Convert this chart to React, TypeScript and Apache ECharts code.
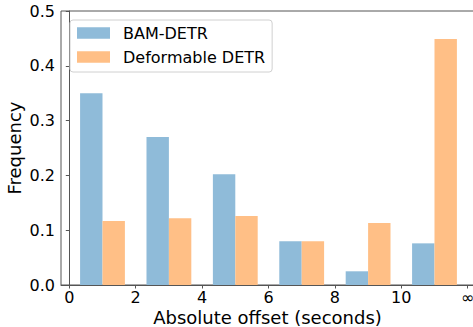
import React, { useEffect, useRef } from "react";
import * as echarts from "echarts";

const centers = [1, 3, 5, 7, 9, 11];
const bamDetr = [0.35, 0.27, 0.202, 0.08, 0.025, 0.076];
const deformableDetr = [0.117, 0.122, 0.126, 0.08, 0.113, 0.449];
const xTickValues = [0, 2, 4, 6, 8, 10, 12];
const xTickLabels = ["0", "2", "4", "6", "8", "10", "∞"];
const seriesNames = ["BAM-DETR", "Deformable DETR"];

const BAR_W = 0.675;
const FONT = "DejaVu Sans";

export default function App() {
  const ref = useRef<HTMLDivElement>(null);
  useEffect(() => {
    if (!ref.current) return;
    const chart = echarts.init(ref.current, null, { renderer: "svg" });
    const mk = (name: string, vals: number[], color: string, side: number) => ({
      type: "custom",
      name,
      itemStyle: { color },
      data: centers.map((c, i) => [c, vals[i]]),
      encode: { x: 0, y: 1 },
      renderItem: (params: any, api: any) => {
        const x = api.value(0);
        const v = api.value(1);
        const xa = side < 0 ? x - BAR_W : x;
        const xb = side < 0 ? x : x + BAR_W;
        const p0 = api.coord([xa, 0]);
        const p1 = api.coord([xb, v]);
        return {
          type: "rect",
          shape: { x: p0[0], y: p1[1], width: p1[0] - p0[0], height: p0[1] - p1[1] },
          style: { fill: color },
        };
      },
    });
    chart.setOption({
      animation: false,
      textStyle: { fontFamily: FONT },
      grid: {
        left: 61,
        top: 11,
        width: 413,
        height: 274,
        containLabel: false,
        outerBoundsMode: "none",
        show: true,
        borderColor: "#555",
        borderWidth: 1,
      },
      legend: {
        orient: "vertical",
        left: 70,
        top: 20,
        data: seriesNames.map((n) => ({ name: n, icon: "rect" })),
        itemWidth: 33,
        itemHeight: 11.5,
        itemGap: 8,
        padding: [5, 7, 7, 7],
        borderColor: "#d0d0d0",
        borderWidth: 1,
        borderRadius: 3,
        backgroundColor: "rgba(255,255,255,0.8)",
        textStyle: { fontFamily: FONT, fontSize: 16, color: "#000", lineHeight: 16, padding: [0, 0, 0, 8] },
      },
      xAxis: {
        type: "value",
        min: -0.25,
        max: 12.19,
        name: "Absolute offset (seconds)",
        nameLocation: "middle",
        nameGap: 25,
        nameMoveOverlap: false,
        nameTextStyle: { fontFamily: FONT, fontSize: 18, color: "#000", lineHeight: 14 },
        splitLine: { show: false },
        axisLine: { show: true, onZero: false, lineStyle: { color: "#555" } },
        axisTick: { show: true, length: 3.5, lineStyle: { color: "#555" }, customValues: xTickValues },
        axisLabel: {
          fontFamily: FONT,
          fontSize: 16,
          lineHeight: 12,
          color: "#000",
          margin: 6,
          customValues: xTickValues,
          formatter: (v: number) => {
            const i = xTickValues.indexOf(v);
            return i >= 0 ? xTickLabels[i] : "";
          },
        },
      },
      yAxis: {
        type: "value",
        min: 0,
        max: 0.5,
        interval: 0.1,
        name: "Frequency",
        nameLocation: "middle",
        nameGap: 38,
        nameMoveOverlap: false,
        nameTextStyle: { fontFamily: FONT, fontSize: 18, color: "#000" },
        splitLine: { show: false },
        axisLine: { show: true, lineStyle: { color: "#555" } },
        axisTick: { show: true, length: 3.5, lineStyle: { color: "#555" } },
        axisLabel: {
          fontFamily: FONT,
          fontSize: 16,
          color: "#000",
          margin: 6,
          formatter: (v: number) => v.toFixed(1),
        },
      },
      series: [
        mk(seriesNames[0], bamDetr, "#8fbbd9", -1),
        mk(seriesNames[1], deformableDetr, "#ffbf86", 1),
      ],
    });
    return () => chart.dispose();
  }, []);
  return (
    <div
      ref={ref}
      style={{ position: "absolute", left: 0, top: 0, width: 473, height: 327, background: "#fff" }}
    />
  );
}
